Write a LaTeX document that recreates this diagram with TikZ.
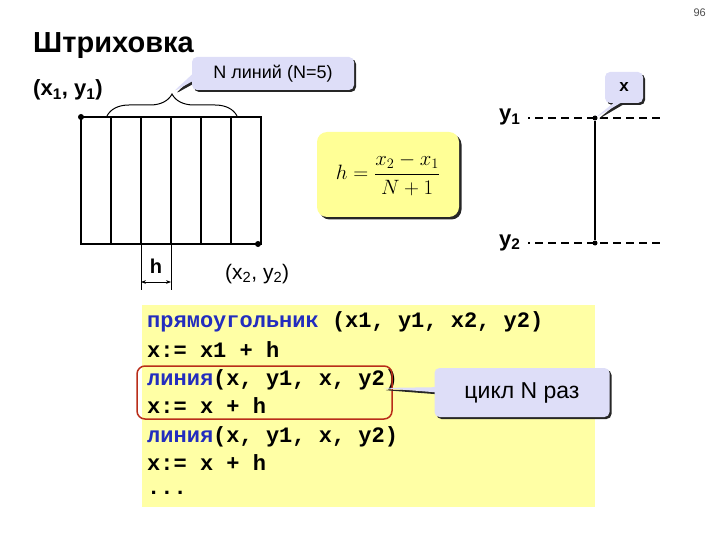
\documentclass[tikz,border=0pt]{standalone}
\usepackage{fontspec}
\setmainfont{Liberation Sans}
\setmonofont{Liberation Mono}
\usetikzlibrary{shapes.callouts, shadows, decorations.pathreplacing, arrows.meta}

\definecolor{lavbg}{RGB}{222,222,248}
\definecolor{codebg}{RGB}{255,255,165}
\definecolor{formbg}{RGB}{255,255,150}
\definecolor{kwblue}{RGB}{35,45,190}
\definecolor{hired}{RGB}{185,45,25}

\newcommand{\kw}[1]{\textcolor{kwblue}{#1}}

\begin{document}
\begin{tikzpicture}[x=1pt, y=-1pt,
    dot/.style={circle, fill=black, inner sep=0pt, minimum size=6pt},
    hatch/.style={line width=1.5pt},
    guide/.style={line width=1.3pt, dash pattern=on 8pt off 5pt, dash phase=6pt},
    callbox/.style={rectangle callout, fill=lavbg, rounded corners=5pt,
        callout pointer width=7pt, inner sep=0pt,
        general shadow={fill=black!85, shadow xshift=2pt, shadow yshift=-2pt}},
    codeline/.style={anchor=base west, inner sep=0pt,
        font=\ttfamily\bfseries\fontsize{22}{26}\selectfont},
    lbl/.style={inner sep=0pt, font=\bfseries\fontsize{22}{26}\selectfont}
]
\useasboundingbox (0,0) rectangle (720,540);

% --- Title ---
\node[anchor=base east, inner sep=0pt, font=\fontsize{11}{13}\selectfont, black!70] (pnum) at (706,17) {96};
\node[anchor=base west, inner sep=0pt, font=\bfseries\fontsize{29}{33}\selectfont] (title) at (33,53) {Штриховка};

% --- Rectangle with hatching ---
\node[dot] (p1) at (81,117) {};
\node[dot] (p2) at (258,244) {};
\draw[hatch] (81,117) rectangle (261,244);
\foreach \i in {1,...,5}
    \draw[hatch] (81+30*\i,117) -- (81+30*\i,244);

\node[lbl, anchor=base west] (lp1) at (33,96) {(x\textsubscript{1}, y\textsubscript{1})};
\node[inner sep=0pt, anchor=base west, font=\fontsize{21}{25}\selectfont] (lp2) at (225,279) {(x\textsubscript{2}, y\textsubscript{2})};

% --- Brace and callout ---
\coordinate (bl) at (107,116);
\coordinate (br) at (237,116);
\coordinate (btip) at (173,92);
\draw[line width=1pt, decorate, decoration={brace, amplitude=22pt}] (bl) -- (br);
\node[callbox, minimum width=162pt, minimum height=33pt, font=\fontsize{18}{21}\selectfont,
    callout absolute pointer={(btip)}] (ncall) at (273,73.5) {N линий (N=5)};

% --- Step h ---
\coordinate (ha) at (141,244);
\coordinate (hb) at (171,244);
\coordinate (hc) at (141,290);
\coordinate (hd) at (171,290);
\draw[line width=0.6pt] (ha) -- (hc);
\draw[line width=0.6pt] (hb) -- (hd);
\coordinate (hl) at (141,282);
\coordinate (hr) at (171,282);
\draw[line width=1pt, {Stealth[length=5pt]}-{Stealth[length=5pt]}] (hl) -- (hr);
\node[lbl, anchor=base, font=\bfseries\fontsize{20}{24}\selectfont] (hlbl) at (156,273) {h};

% --- Formula ---
\node[fill=formbg, rounded corners=10pt, minimum width=142pt, minimum height=85pt,
    general shadow={fill=black!85, shadow xshift=2.5pt, shadow yshift=-2.5pt},
    font=\fontsize{22}{26}\selectfont] (form) at (388,174.5)
    {$\displaystyle h=\frac{x_2-x_1}{N+1}$};

% --- One line x ---
\node[dot, minimum size=5pt] (ya) at (595,118) {};
\node[dot, minimum size=5pt] (yb) at (595,243) {};
\draw[line width=1.5pt] (ya) -- (yb);
\coordinate (g1l) at (528,118);
\coordinate (g1r) at (662,118);
\coordinate (g2l) at (528,243);
\coordinate (g2r) at (662,243);
\draw[guide] (g1l) -- (g1r);
\draw[guide] (g2l) -- (g2r);
\node[lbl, anchor=base west] (ly1) at (499,121) {y\textsubscript{1}};
\node[lbl, anchor=base west] (ly2) at (499,246) {y\textsubscript{2}};
\node[callbox, minimum width=38pt, minimum height=31pt, font=\bfseries\fontsize{17}{20}\selectfont,
    callout absolute pointer={(ya)}] (xcall) at (624,87.5) {x};

% --- Program ---
\node[fill=codebg, minimum width=453pt, minimum height=202pt, inner sep=0pt] (code) at (368.5,406) {};
\node[codeline] (c1) at (147,327) {\kw{прямоугольник} (x1, y1, x2, y2)};
\node[codeline] (c2) at (147,357) {x:= x1 + h};
\node[codeline] (c3) at (147,385) {\kw{линия}(x, y1, x, y2)};
\node[codeline] (c4) at (147,413) {x:= x + h};
\node[codeline] (c5) at (147,442) {\kw{линия}(x, y1, x, y2)};
\node[codeline] (c6) at (147,470) {x:= x + h};
\node[codeline] (c7) at (147,494) {...};

\node[draw=hired, line width=1.5pt, rounded corners=8pt, minimum width=255pt,
    minimum height=53pt, inner sep=0pt] (loopbox) at (264.5,392.5) {};
\coordinate (ltip) at (381,388);
\node[callbox, minimum width=175pt, minimum height=49pt, font=\fontsize{23}{27}\selectfont,
    callout pointer width=5pt, callout absolute pointer={(ltip)}] (lcall) at (522,392.5) {цикл N раз};

\end{tikzpicture}
\end{document}
